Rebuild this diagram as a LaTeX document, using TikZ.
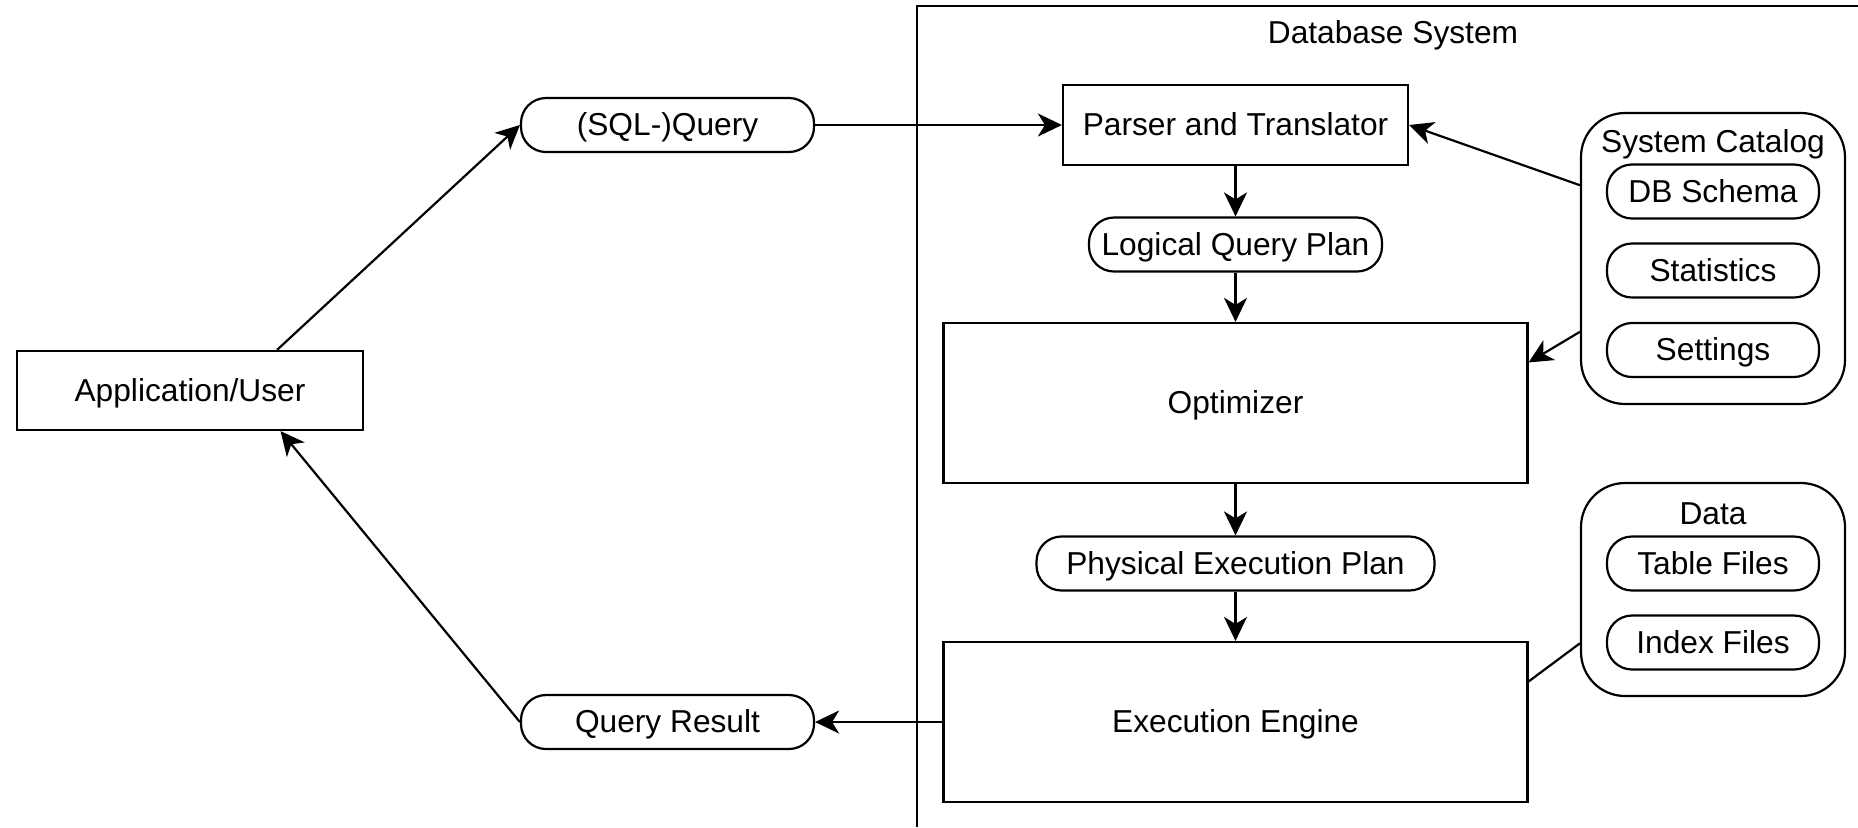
\documentclass[tikz,border=0pt]{standalone}
\usepackage{fontspec}
\setmainfont{Liberation Sans}
\usetikzlibrary{arrows.meta,calc}
\begin{document}
\begin{tikzpicture}[x=0.5pt,y=-0.5pt,
  every node/.style={font=\fontsize{15.85}{19}\selectfont, inner sep=0pt,
    text height=14.95pt, text depth=3.97pt},
  line/.style={line width=1.1pt},
  arr/.style={line, -{Stealth[length=12pt,width=11.5pt,inset=3.5pt]}},
  box/.style={draw, line width=1.1pt, rectangle},
  pill/.style={draw, line width=1.1pt, rectangle, rounded corners=12.5pt},
  group/.style={draw, line width=1.1pt, rectangle, rounded corners=22pt},
  label/.style={}
]
\useasboundingbox (0,0) rectangle (1858,827);

% Database system container (open to the right and bottom)
\draw[line] (1858,6) -- (917,6) -- (917,827);
\node[label] (dbtitle) at (1393,33) {Database System};

% outside components
\node[box, minimum width=173pt, minimum height=39.5pt] (app) at (190,390.5) {Application/User};
\node[pill, minimum width=146.5pt, minimum height=27pt] (sql) at (667.5,125) {(SQL-)Query};
\node[pill, minimum width=146.5pt, minimum height=27pt] (res) at (667.5,722) {Query Result};

% processing pipeline
\node[box, minimum width=172.5pt, minimum height=40pt] (parser) at (1235.5,125) {Parser and Translator};
\node[pill, minimum width=146.5pt, minimum height=27pt] (lqp) at (1235.5,244.5) {Logical Query Plan};
\node[box, minimum width=292pt, minimum height=80pt] (opt) at (1235.5,403) {Optimizer};
\node[pill, minimum width=199pt, minimum height=27pt] (pep) at (1235.5,563.5) {Physical Execution Plan};
\node[box, minimum width=292pt, minimum height=80pt] (ee) at (1235.5,722) {Execution Engine};

% system catalog
\node[group, minimum width=132pt, minimum height=145.5pt] (cat) at (1713,258.5) {};
\node[label] (cattitle) at (1713,142) {System Catalog};
\node[pill, minimum width=106pt, minimum height=27pt] (schema) at (1713,191.5) {DB Schema};
\node[pill, minimum width=106pt, minimum height=27pt] (stats) at (1713,270.5) {Statistics};
\node[pill, minimum width=106pt, minimum height=27pt] (settings) at (1713,350) {Settings};

% data
\node[group, minimum width=132pt, minimum height=106.5pt] (data) at (1713,589.5) {};
\node[label] (datatitle) at (1713,514) {Data};
\node[pill, minimum width=106pt, minimum height=27pt] (tables) at (1713,563.5) {Table Files};
\node[pill, minimum width=106pt, minimum height=27pt] (index) at (1713,642.5) {Index Files};

% connectors
\coordinate (appout) at ($(app.north west)!0.75!(app.north east)$);
\coordinate (appin) at ($(app.south west)!0.76!(app.south east)$);
\draw[arr] (appout) -- (sql.west);
\draw[arr] (res.west) -- (appin);
\draw[arr] (sql.east) -- (parser.west);
\draw[arr] (parser.south) -- (lqp.north);
\draw[arr] (lqp.south) -- (opt.north);
\draw[arr] (opt.south) -- (pep.north);
\draw[arr] (pep.south) -- (ee.north);
\draw[arr] (ee.west) -- (res.east);

\coordinate (catA) at ($(cat.north west)!0.25!(cat.south west)$);
\coordinate (catB) at ($(cat.north west)!0.75!(cat.south west)$);
\coordinate (optIn) at ($(opt.north east)!0.25!(opt.south east)$);
\coordinate (dataOut) at ($(data.north west)!0.75!(data.south west)$);
\coordinate (eeIn) at ($(ee.north east)!0.25!(ee.south east)$);
\draw[arr] (catA) -- (parser.east);
\draw[arr] (catB) -- (optIn);
\draw[line] (dataOut) -- (eeIn);
\end{tikzpicture}
\end{document}
